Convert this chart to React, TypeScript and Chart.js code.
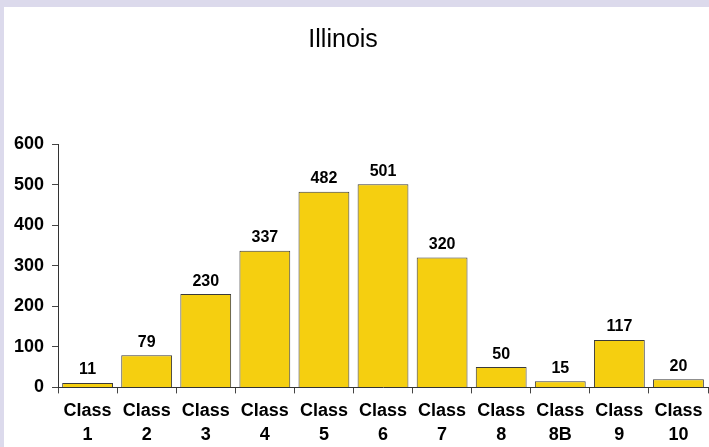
import React, { useEffect, useRef } from "react";
import { Chart, registerables } from "chart.js";

Chart.register(...registerables);

const categories: string[][] = [
  ["Class", "1"], ["Class", "2"], ["Class", "3"], ["Class", "4"], ["Class", "5"],
  ["Class", "6"], ["Class", "7"], ["Class", "8"], ["Class", "8B"], ["Class", "9"], ["Class", "10"],
];
const values: number[] = [11, 79, 230, 337, 482, 501, 320, 50, 15, 117, 20];
const chartTitle = "Illinois";
const yMax = 600;
const yStep = 100;

const FONT = "'Liberation Sans', Arial, sans-serif";

const titlePlugin = {
  id: "customTitle",
  afterDraw(chart: any) {
    const { ctx, width } = chart;
    ctx.save();
    ctx.font = `normal 25px ${FONT}`;
    ctx.fillStyle = "#000";
    ctx.textAlign = "center";
    ctx.textBaseline = "middle";
    ctx.fillText(chartTitle, width * 0.481, 33);
    ctx.restore();
  },
};

const valueLabels = {
  id: "valueLabels",
  afterDatasetsDraw(chart: any) {
    const { ctx } = chart;
    const meta = chart.getDatasetMeta(0);
    ctx.save();
    ctx.font = `bold 16px ${FONT}`;
    ctx.fillStyle = "#000";
    ctx.textAlign = "center";
    ctx.textBaseline = "bottom";
    meta.data.forEach((bar: any, i: number) => {
      ctx.fillText(String(values[i]), bar.x, bar.y - 5);
    });
    ctx.restore();
  },
};

export default function App() {
  const ref = useRef<HTMLCanvasElement>(null);
  useEffect(() => {
    document.body.style.margin = "0";
    const chart = new Chart(ref.current!, {
      type: "bar",
      data: {
        labels: categories,
        datasets: [
          {
            data: values,
            backgroundColor: "#f5cf10",
            borderColor: "#3a3a3a",
            borderWidth: 1,
            barPercentage: 0.86,
            categoryPercentage: 1,
          },
        ],
      },
      options: {
        animation: false,
        responsive: false,
        layout: { padding: { left: 2, right: 1, top: 137, bottom: 0 } },
        plugins: { legend: { display: false }, title: { display: false }, tooltip: { enabled: false } },
        scales: {
          x: {
            grid: { display: true, drawOnChartArea: false, drawTicks: true, tickLength: 6, color: "#444", offset: true },
            border: { display: true, color: "#333", width: 1 },
            ticks: {
              color: "#000",
              font: { family: FONT, size: 18, weight: "bold", lineHeight: 1.35 },
              padding: 5,
              maxRotation: 0,
              autoSkip: false,
            },
          },
          y: {
            min: 0,
            max: yMax,
            grid: { display: true, drawOnChartArea: false, drawTicks: true, tickLength: 6, color: "#444" },
            border: { display: true, color: "#333", width: 1 },
            ticks: {
              stepSize: yStep,
              color: "#000",
              font: { family: FONT, size: 18, weight: "bold" },
              padding: 8,
            },
          },
        },
      },
      plugins: [titlePlugin, valueLabels],
    });
    return () => chart.destroy();
  }, []);
  return (
    <div style={{ position: "relative", width: 709, height: 447, background: "#dcdaec", overflow: "hidden" }}>
      <div style={{ position: "absolute", left: 4, top: 7, width: 705, height: 440, background: "#fff", overflow: "hidden" }}>
        <canvas ref={ref} width={705} height={445} style={{ display: "block" }} />
      </div>
    </div>
  );
}
